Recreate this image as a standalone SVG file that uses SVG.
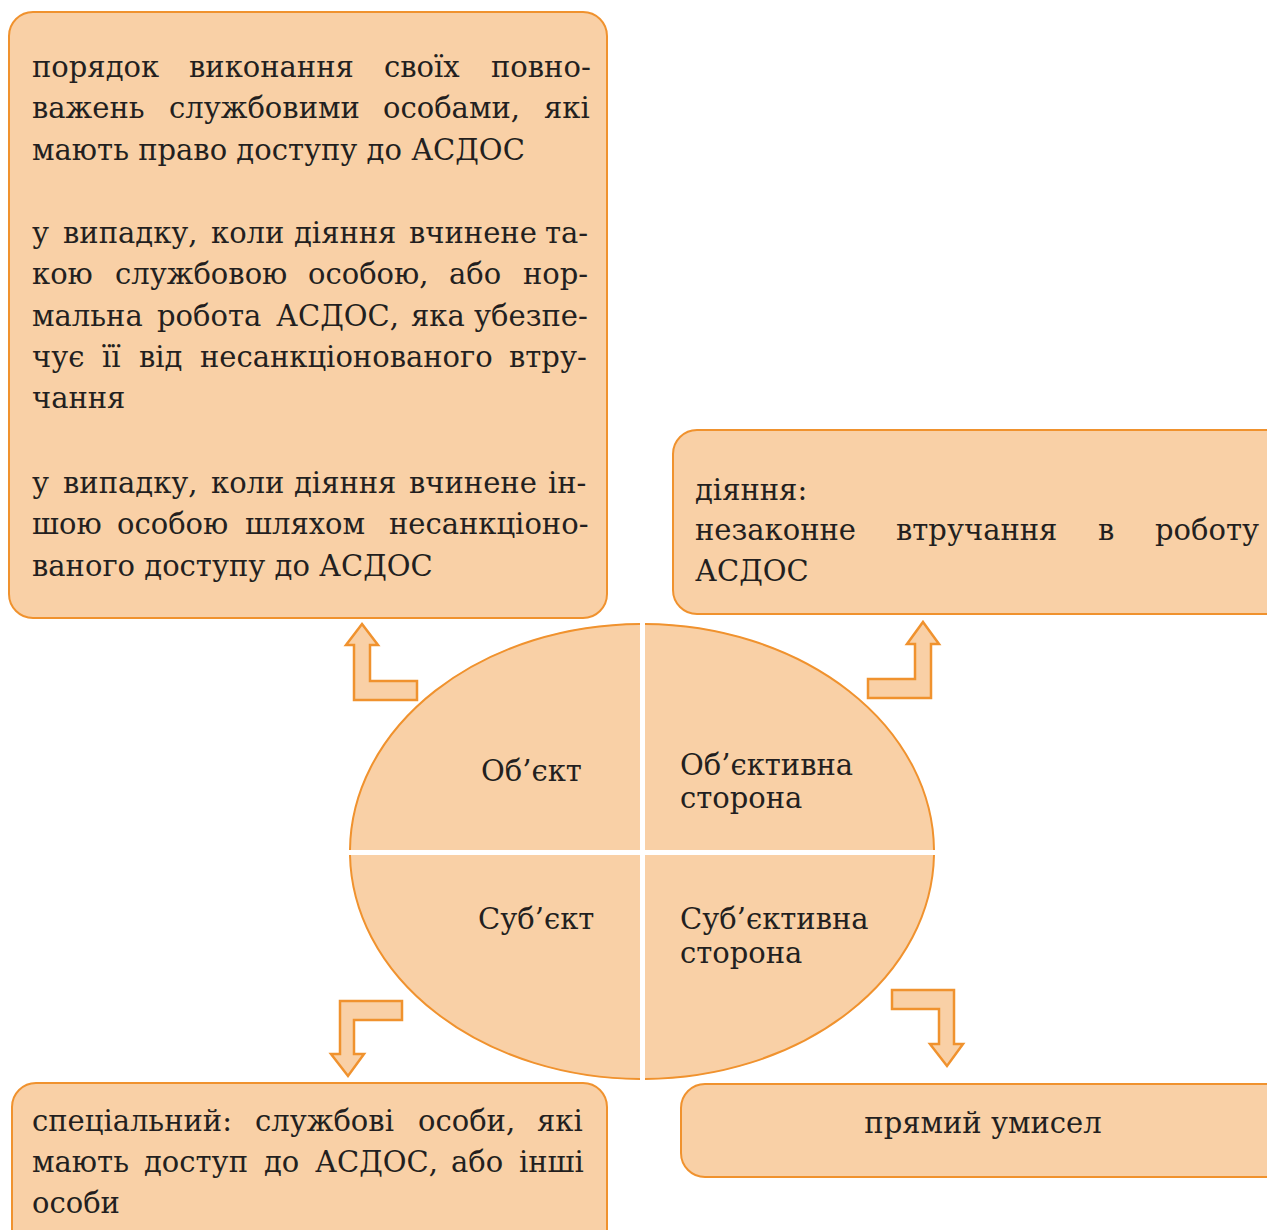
<svg xmlns="http://www.w3.org/2000/svg" width="1267" height="1230" viewBox="0 0 1267 1230">
<style>
.box{fill:#F9D0A6;stroke:#F0922E;stroke-width:2}
.arr{fill:#F9D0A6;stroke:#F0922E;stroke-width:2.5;stroke-linejoin:miter}
.q{fill:#F9D0A6;stroke:none}
.arc{fill:none;stroke:#F0922E;stroke-width:2}
text{font-family:"DejaVu Serif","Liberation Serif",serif;font-size:29px;fill:#231F20}
</style>
<rect width="1267" height="1230" fill="#ffffff"/>
<g id="object-box">
<rect class="box" x="9" y="12" width="598" height="606" rx="24"/>
<text y="77"><tspan x="32">порядок</tspan><tspan x="189">виконання</tspan><tspan x="384">своїх</tspan><tspan x="491">повно-</tspan></text>
<text y="118"><tspan x="32">важень</tspan><tspan x="169">службовими</tspan><tspan x="383">особами,</tspan><tspan x="544">які</tspan></text>
<text x="32" y="160">мають право доступу до АСДОС</text>
<text y="243"><tspan x="32">у</tspan><tspan x="63">випадку,</tspan><tspan x="211">коли</tspan><tspan x="294">діяння</tspan><tspan x="409">вчинене</tspan><tspan x="545">та-</tspan></text>
<text y="284"><tspan x="32">кою</tspan><tspan x="115">службовою</tspan><tspan x="308">особою,</tspan><tspan x="449">або</tspan><tspan x="523">нор-</tspan></text>
<text y="326"><tspan x="32">мальна</tspan><tspan x="157">робота</tspan><tspan x="276">АСДОС,</tspan><tspan x="411">яка</tspan><tspan x="474">убезпе-</tspan></text>
<text y="367"><tspan x="32">чує</tspan><tspan x="102">її</tspan><tspan x="139">від</tspan><tspan x="200">несанкціонованого</tspan><tspan x="509">втру-</tspan></text>
<text x="32" y="408">чання</text>
<text y="493"><tspan x="32">у</tspan><tspan x="63">випадку,</tspan><tspan x="211">коли</tspan><tspan x="294">діяння</tspan><tspan x="409">вчинене</tspan><tspan x="548">ін-</tspan></text>
<text y="534"><tspan x="32">шою</tspan><tspan x="117">особою</tspan><tspan x="245">шляхом</tspan><tspan x="389">несанкціоно-</tspan></text>
<text x="32" y="576">ваного доступу до АСДОС</text>
</g>
<g id="objective-box">
<rect class="box" x="673" y="430" width="620" height="184" rx="24"/>
<text x="695" y="500">діяння:</text>
<text y="540"><tspan x="695">незаконне</tspan><tspan x="896">втручання</tspan><tspan x="1098">в</tspan><tspan x="1155">роботу</tspan></text>
<text x="695" y="581">АСДОС</text>
</g>
<g id="subject-box">
<rect class="box" x="12" y="1083" width="595" height="180" rx="24"/>
<text y="1131"><tspan x="32">спеціальний:</tspan><tspan x="255">службові</tspan><tspan x="418">особи,</tspan><tspan x="537">які</tspan></text>
<text y="1172"><tspan x="32">мають</tspan><tspan x="144">доступ</tspan><tspan x="264">до</tspan><tspan x="315">АСДОС,</tspan><tspan x="451">або</tspan><tspan x="519">інші</tspan></text>
<text x="32" y="1213">особи</text>
</g>
<g id="subjective-box">
<rect class="box" x="681" y="1084" width="610" height="93" rx="24"/>
<text x="983" y="1133" text-anchor="middle">прямий умисел</text>
</g>
<g id="circle">
<path class="q" d="M640,623.5 A292,227.5 0 0 0 350,850 L640,850 Z"/>
<path class="q" d="M645,623.5 A292,227.5 0 0 1 934,850 L645,850 Z"/>
<path class="q" d="M640,1079.5 A292,227.5 0 0 1 350,855 L640,855 Z"/>
<path class="q" d="M645,1079.5 A292,227.5 0 0 0 934,855 L645,855 Z"/>
<path class="arc" d="M640,624 A292,227.5 0 0 0 350,850"/>
<path class="arc" d="M645,624 A292,227.5 0 0 1 934,850"/>
<path class="arc" d="M640,1079 A292,227.5 0 0 1 350,855"/>
<path class="arc" d="M645,1079 A292,227.5 0 0 0 934,855"/>
<text x="481" y="781">Об’єкт</text>
<text x="680" y="775">Об’єктивна</text>
<text x="680" y="808">сторона</text>
<text x="478" y="929">Суб’єкт</text>
<text x="680" y="929">Суб’єктивна</text>
<text x="680" y="963">сторона</text>
</g>
<g id="connectors">
<polygon class="arr" points="362,624 378,645 370,645 370,681 417,681 417,700 354,700 354,645 346,645"/>
<polygon class="arr" points="923,622 939,644 931,644 931,698 868,698 868,679 915,679 915,644 907,644"/>
<polygon class="arr" points="340,1001 402,1001 402,1020 354,1020 354,1054 364,1054 348,1076 331,1054 340,1054"/>
<polygon class="arr" points="892,990 954,990 954,1044 963,1044 947,1066 930,1044 939,1044 939,1009 892,1009"/>
</g>
</svg>
